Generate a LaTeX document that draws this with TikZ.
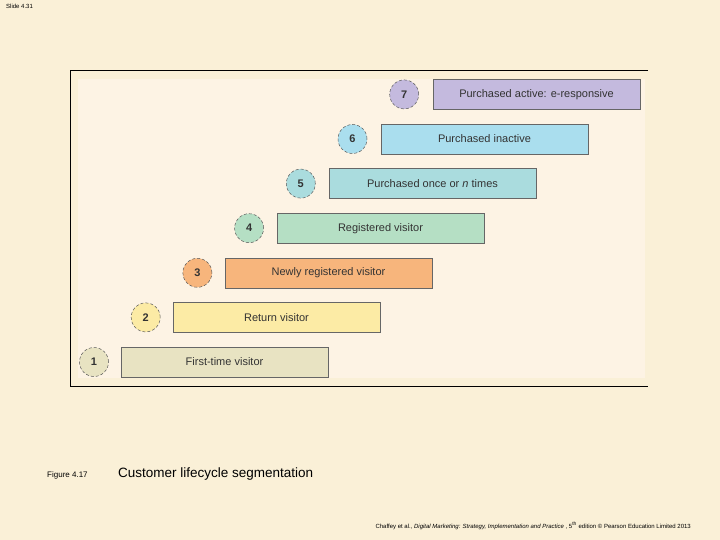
\documentclass[tikz,border=0pt]{standalone}
\usepackage{fontspec}
\setmainfont{Liberation Sans}
\begin{document}
\begin{tikzpicture}[x=1pt,y=-1pt,
  lbox/.style={draw=gray!80!black,line width=0.6pt,minimum width=207pt,minimum height=30pt,inner sep=0pt,font=\fontsize{11}{13}\selectfont,text=black!80},
  num/.style={circle,draw=gray!70!black,densely dashed,line width=0.5pt,minimum size=29pt,inner sep=0pt,font=\bfseries\fontsize{11}{13}\selectfont,text=black!80}]
\fill[fill={rgb,255:red,250;green,240;blue,215}] (0,0) rectangle (720,540);
\useasboundingbox (0,0) rectangle (720,540);
\node[anchor=north west,font=\fontsize{6}{7}\selectfont,inner sep=0pt] (slide) at (6,4) {Slide 4.31};
\fill[fill={rgb,255:red,253;green,243;blue,228}] (78,79) rectangle (645,378);
\draw[line width=1pt] (648,71) -- (70,71) -- (70,386) -- (648,386);
\definecolor{c1}{RGB}{232,227,194}
\definecolor{c2}{RGB}{252,235,165}
\definecolor{c3}{RGB}{247,181,124}
\definecolor{c4}{RGB}{181,223,196}
\definecolor{c5}{RGB}{170,220,222}
\definecolor{c6}{RGB}{170,222,238}
\definecolor{c7}{RGB}{196,186,222}
\foreach \i/\t in {1/First-time visitor,2/Return visitor,3/Newly registered visitor,4/Registered visitor,5/{Purchased once or \textit{n} times},6/Purchased inactive,7/Purchased active: e-responsive}{
  \pgfmathsetmacro{\bx}{224.5+52*(\i-1)}
  \pgfmathsetmacro{\by}{362-44.6*(\i-1)}
  \pgfmathsetmacro{\cx}{94+51.7*(\i-1)}
  \node[lbox,fill=c\i] (b\i) at (\bx,\by) {\t};
  \node[num,fill=c\i] (n\i) at (\cx,\by) {\i};
}
\node[anchor=base west,font=\fontsize{8}{9}\selectfont,inner sep=0pt] (fig) at (47,477) {Figure 4.17};
\node[anchor=base west,font=\fontsize{13.5}{15}\selectfont,inner sep=0pt] (cap) at (118,477) {Customer lifecycle segmentation};
\node[anchor=base east,font=\fontsize{6}{7}\selectfont,inner sep=0pt] (cite) at (691,528) {Chaffey et al., \textit{Digital Marketing: Strategy, Implementation and Practice} , 5\textsuperscript{th} edition © Pearson Education Limited 2013};
\end{tikzpicture}
\end{document}
